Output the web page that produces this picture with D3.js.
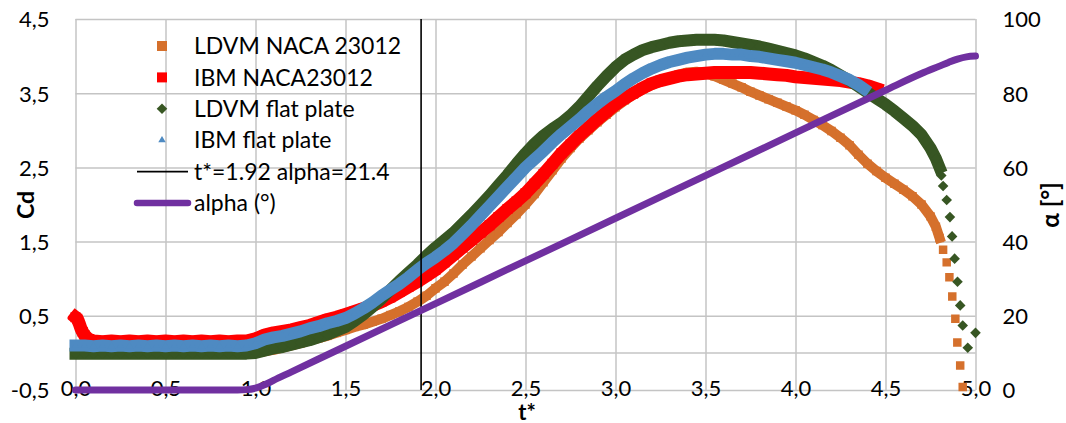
<!DOCTYPE html>
<html>
<head>
<meta charset="utf-8">
<script src="https://cdn.jsdelivr.net/npm/d3@7"></script>
<style>
  html, body { margin: 0; padding: 0; background: #ffffff; }
  svg { display: block; }
  text { font-family: Lato, "Open Sans", sans-serif; fill: #000; }
</style>
</head>
<body>
<div id="chart"></div>
<script>
// ---------------- DATA ----------------
const xTicks = [0, 0.5, 1.0, 1.5, 2.0, 2.5, 3.0, 3.5, 4.0, 4.5, 5.0];
const xTickLabels = ["0,0","0,5","1,0","1,5","2,0","2,5","3,0","3,5","4,0","4,5","5,0"];
const yTicks = [-0.5, 0.5, 1.5, 2.5, 3.5, 4.5];
const yTickLabels = ["-0,5","0,5","1,5","2,5","3,5","4,5"];
const y2Ticks = [0, 20, 40, 60, 80, 100];
const y2TickLabels = ["0","20","40","60","80","100"];

const seriesNames = ["LDVM NACA 23012", "IBM NACA23012", "LDVM flat plate", "IBM flat plate", "t*=1.92 alpha=21.4", "alpha (°)"];

// LDVM NACA 23012 (dense part)
const ldvmNacaT = [0,0.05,0.1,0.15,0.2,0.25,0.3,0.35,0.4,0.45,0.5,0.55,0.6,0.65,0.7,0.75,0.8,0.85,0.9,0.95,
  1.0,1.05,1.1,1.15,1.2,1.25,1.3,1.35,1.4,1.45,1.5,1.55,1.6,1.65,1.7,1.75,1.8,1.85,1.9,1.95,
  2.0,2.05,2.1,2.15,2.2,2.25,2.3,2.35,2.4,2.45,2.5,2.55,2.6,2.65,2.7,2.75,2.8,2.85,2.9,2.95,
  3.0,3.05,3.1,3.15,3.2,3.25,3.3,3.35,3.4,3.45,3.5,3.55,3.6,3.65,3.7,3.75,3.8,3.85,3.9,3.95,
  4.0,4.05,4.1,4.15,4.2,4.25,4.3,4.35,4.4,4.45,4.5,4.55,4.6,4.65,4.7,4.75,4.78,4.8];
const ldvmNacaCd = [0.00,0.00,0.00,0.00,0.00,0.00,0.00,0.00,0.00,0.00,0.00,0.00,0.00,0.00,0.00,0.00,0.00,0.00,0.00,0.00,
  0.01,0.02,0.04,0.07,0.10,0.13,0.17,0.20,0.23,0.27,0.31,0.35,0.38,0.42,0.46,0.51,0.56,0.62,0.69,0.77,
  0.87,0.96,1.07,1.19,1.30,1.41,1.52,1.63,1.75,1.87,2.00,2.14,2.30,2.46,2.62,2.76,2.89,3.00,3.11,3.21,
  3.31,3.40,3.48,3.55,3.61,3.66,3.71,3.75,3.78,3.79,3.77,3.73,3.68,3.63,3.58,3.52,3.47,3.42,3.37,3.32,
  3.27,3.21,3.14,3.07,2.99,2.90,2.80,2.67,2.55,2.45,2.36,2.28,2.20,2.11,2.00,1.84,1.70,1.55];
// LDVM NACA 23012 (sparse final drop)
const ldvmNacaTailT  = [4.82, 4.84, 4.855, 4.871, 4.888, 4.899, 4.915, 4.929];
const ldvmNacaTailCd = [1.39, 1.22, 1.02, 0.76, 0.46, 0.14, -0.17, -0.46];

// IBM NACA23012
const ibmNacaT = [0,0.01,0.02,0.03,0.04,0.05,0.07,0.1,0.15,0.2,0.25,0.3,0.35,0.4,0.45,0.5,0.55,0.6,0.65,0.7,0.75,0.8,0.85,0.9,0.95,
  1.0,1.05,1.1,1.15,1.2,1.25,1.3,1.35,1.4,1.45,1.5,1.55,1.6,1.65,1.7,1.75,1.8,1.85,1.9,1.95,
  2.0,2.05,2.1,2.15,2.2,2.25,2.3,2.35,2.4,2.45,2.5,2.55,2.6,2.65,2.7,2.75,2.8,2.85,2.9,2.95,
  3.0,3.05,3.1,3.15,3.2,3.25,3.3,3.35,3.4,3.45,3.5,3.55,3.6,3.65,3.7,3.75,3.8,3.85,3.9,3.95,
  4.0,4.05,4.1,4.15,4.2,4.25,4.3,4.35,4.4,4.45];
const ibmNacaCd = [0.48,0.46,0.40,0.33,0.28,0.24,0.19,0.16,0.15,0.16,0.15,0.16,0.15,0.16,0.15,0.16,0.15,0.16,0.15,0.16,0.15,0.16,0.15,0.16,0.16,
  0.19,0.24,0.27,0.29,0.31,0.34,0.37,0.41,0.45,0.48,0.52,0.56,0.60,0.64,0.69,0.75,0.82,0.89,0.96,1.04,
  1.12,1.22,1.32,1.42,1.52,1.62,1.72,1.83,1.94,2.04,2.15,2.28,2.41,2.55,2.69,2.81,2.93,3.04,3.15,3.25,
  3.35,3.43,3.50,3.57,3.63,3.67,3.70,3.73,3.75,3.76,3.77,3.78,3.78,3.78,3.78,3.78,3.77,3.76,3.75,3.74,
  3.72,3.71,3.70,3.69,3.68,3.67,3.65,3.63,3.60,3.56];

// LDVM flat plate (dense part)
const ldvmFlatT = [0,0.05,0.1,0.15,0.2,0.25,0.3,0.35,0.4,0.45,0.5,0.55,0.6,0.65,0.7,0.75,0.8,0.85,0.9,0.95,
  1.0,1.05,1.1,1.15,1.2,1.25,1.3,1.35,1.4,1.45,1.5,1.55,1.6,1.65,1.7,1.75,1.8,1.85,1.9,1.95,
  2.0,2.05,2.1,2.15,2.2,2.25,2.3,2.35,2.4,2.45,2.5,2.55,2.6,2.65,2.7,2.75,2.8,2.85,2.9,2.95,
  3.0,3.05,3.1,3.15,3.2,3.25,3.3,3.35,3.4,3.45,3.5,3.55,3.6,3.65,3.7,3.75,3.8,3.85,3.9,3.95,
  4.0,4.05,4.1,4.15,4.2,4.25,4.3,4.35,4.4,4.45,4.5,4.55,4.6,4.65,4.7,4.75,4.78,4.8];
const ldvmFlatCd = [-0.01,-0.01,-0.01,-0.01,-0.01,-0.01,-0.01,-0.01,-0.01,-0.01,-0.01,-0.01,-0.01,-0.01,-0.01,-0.01,-0.01,-0.01,-0.01,-0.01,
  0.00,0.03,0.06,0.08,0.11,0.14,0.17,0.21,0.25,0.30,0.35,0.43,0.52,0.62,0.73,0.85,0.97,1.08,1.19,1.31,
  1.42,1.52,1.62,1.74,1.86,1.99,2.12,2.26,2.40,2.55,2.69,2.82,2.93,3.02,3.10,3.20,3.32,3.46,3.60,3.73,
  3.85,3.95,4.02,4.08,4.12,4.15,4.18,4.20,4.21,4.22,4.22,4.22,4.21,4.19,4.17,4.15,4.13,4.10,4.07,4.04,
  4.01,3.97,3.92,3.87,3.81,3.74,3.67,3.59,3.51,3.43,3.35,3.26,3.16,3.06,2.94,2.76,2.62,2.50];
// LDVM flat plate (sparse final drop)
const ldvmFlatTailT  = [4.81, 4.82, 4.84, 4.858, 4.87, 4.884, 4.90, 4.915, 4.929, 4.957, 5.0];
const ldvmFlatTailCd = [2.39, 2.25, 2.06, 1.83, 1.57, 1.27, 0.96, 0.64, 0.37, 0.07, 0.27];

// IBM flat plate
const ibmFlatT = [0,0.05,0.1,0.15,0.2,0.25,0.3,0.35,0.4,0.45,0.5,0.55,0.6,0.65,0.7,0.75,0.8,0.85,0.9,0.95,
  1.0,1.05,1.1,1.15,1.2,1.25,1.3,1.35,1.4,1.45,1.5,1.55,1.6,1.65,1.7,1.75,1.8,1.85,1.9,1.95,
  2.0,2.05,2.1,2.15,2.2,2.25,2.3,2.35,2.4,2.45,2.5,2.55,2.6,2.65,2.7,2.75,2.8,2.85,2.9,2.95,
  3.0,3.05,3.1,3.15,3.2,3.25,3.3,3.35,3.4,3.45,3.5,3.55,3.6,3.65,3.7,3.75,3.8,3.85,3.9,3.95,
  4.0,4.05,4.1,4.15,4.2,4.25,4.3,4.35,4.38];
const ibmFlatCd = [0.10,0.10,0.09,0.10,0.09,0.10,0.09,0.10,0.09,0.10,0.09,0.10,0.09,0.10,0.09,0.10,0.09,0.10,0.09,0.10,
  0.13,0.18,0.21,0.23,0.26,0.29,0.33,0.36,0.40,0.43,0.47,0.53,0.60,0.68,0.77,0.85,0.93,1.02,1.12,1.21,
  1.29,1.38,1.48,1.60,1.72,1.85,1.98,2.11,2.24,2.37,2.50,2.61,2.72,2.84,2.95,3.05,3.15,3.26,3.36,3.45,
  3.53,3.62,3.70,3.77,3.83,3.88,3.92,3.95,3.98,4.00,4.02,4.03,4.03,4.02,4.02,4.00,3.99,3.97,3.95,3.93,
  3.91,3.88,3.85,3.82,3.78,3.73,3.68,3.61,3.56];

// vertical marker line t* = 1.92
const tStarT  = [1.92, 1.92];
const tStarCd = [-0.5, 4.5];

// alpha (deg), secondary axis
const alphaT   = [0, 0.5, 0.9, 0.95, 1.0, 1.05, 1.1, 1.2, 1.5, 2.0, 2.5, 3.0, 3.5, 4.0, 4.5, 4.7, 4.8, 4.85, 4.9, 4.95, 5.0];
const alphaDeg = [0, 0, 0, 0.1, 0.5, 1.4, 2.6, 4.9, 11.8, 23.3, 34.8, 46.3, 57.8, 69.3, 80.8, 85.3, 87.3, 88.3, 89.2, 89.8, 90];

// ---------------- CHART ----------------
const W = 1066, H = 423;
const pL = 75.5, pR = 975.5, pT = 19, pB = 390;

const colors = {
  ldvmNaca: "#D5702C",
  ibmNaca: "#FF0000",
  ldvmFlat: "#375623",
  ibmFlat: "#4E8AC2",
  tstar: "#000000",
  alpha: "#7030A0",
  grid: "#C4C4C4"
};

const svg = d3.select("#chart").append("svg").attr("width", W).attr("height", H);
svg.append("rect").attr("width", W).attr("height", H).attr("fill", "#fff");

const x = d3.scaleLinear().domain([0, 5]).range([pL, pR]);
const y = d3.scaleLinear().domain([-0.5, 4.5]).range([pB, pT]);
const y2 = d3.scaleLinear().domain([0, 100]).range([pB, pT]);

const FS = 22;
const FF = "Lato, 'Open Sans', sans-serif";

// gridlines
const gx = svg.append("g").attr("transform", `translate(0,${pB})`)
  .call(d3.axisBottom(x).tickValues(xTicks).tickSize(-(pB - pT)).tickFormat(""));
gx.select(".domain").remove();
gx.selectAll("line").attr("stroke", colors.grid).attr("stroke-width", 1.5);

const gy = svg.append("g").attr("transform", `translate(${pL},0)`)
  .call(d3.axisLeft(y).tickValues(yTicks).tickSize(-(pR - pL)).tickFormat(""));
gy.select(".domain").remove();
gy.selectAll("line").attr("stroke", colors.grid).attr("stroke-width", 1.5);

// horizontal axis line crossing at Cd = 0
svg.append("line").attr("x1", pL).attr("x2", pR)
  .attr("y1", y(0)).attr("y2", y(0))
  .attr("stroke", colors.grid).attr("stroke-width", 1.5);

// tick labels
const axX = svg.append("g").attr("transform", `translate(0,${pB})`)
  .call(d3.axisBottom(x).tickValues(xTicks).tickSize(0).tickFormat((d, i) => xTickLabels[i]));
axX.select(".domain").remove();
axX.selectAll("text").attr("y", -1.5).attr("dy", "0.36em")
  .style("font-size", FS + "px").style("font-family", FF).attr("fill", "#000");

const axY = svg.append("g").attr("transform", `translate(${pL},0)`)
  .call(d3.axisLeft(y).tickValues(yTicks).tickSize(0).tickPadding(26).tickFormat((d, i) => yTickLabels[i]));
axY.select(".domain").remove();
axY.selectAll("text").attr("dy", "0.36em")
  .style("font-size", FS + "px").style("font-family", FF).attr("fill", "#000");

const axY2 = svg.append("g").attr("transform", `translate(${pR},0)`)
  .call(d3.axisRight(y2).tickValues(y2Ticks).tickSize(0).tickPadding(27).tickFormat((d, i) => y2TickLabels[i]));
axY2.select(".domain").remove();
axY2.selectAll("text").attr("dy", "0.36em")
  .style("font-size", FS + "px").style("font-family", FF).attr("fill", "#000");

// axis titles
svg.append("text").attr("transform", `translate(25.5,205) rotate(-90)`)
  .attr("text-anchor", "middle").attr("dy", "0.36em")
  .style("font-size", "23px").style("font-weight", "bold").text("Cd");
svg.append("text").attr("x", 527).attr("y", 420)
  .attr("text-anchor", "middle")
  .style("font-size", "22px").style("font-weight", "bold").text("t*");
svg.append("text").attr("transform", `translate(1050,205) rotate(-90)`)
  .attr("text-anchor", "middle").attr("dy", "0.36em")
  .style("font-size", "24px").style("font-weight", "bold").text("α [°]");

// clip
svg.append("clipPath").attr("id", "plotClip").append("rect")
  .attr("x", pL - 8).attr("y", pT - 2).attr("width", pR - pL + 16).attr("height", pB - pT + 4);
const plot = svg.append("g").attr("clip-path", "url(#plotClip)");

const zip = (ts, vs) => ts.map((t, i) => ({ t: t, v: vs[i] }));

const lineCd = d3.line().x(d => x(d.t)).y(d => y(d.v));
const lineA = d3.line().x(d => x(d.t)).y(d => y2(d.v)).curve(d3.curveMonotoneX);

const symSquare = d3.symbol().type(d3.symbolSquare).size(72)();
const symSquareR = d3.symbol().type(d3.symbolSquare).size(100)();
const symDia = d3.symbol().type(d3.symbolSquare).size(56)();
const symTri = d3.symbol().type(d3.symbolTriangle).size(24)();

function band(data, color, width) {
  plot.append("path").datum(data).attr("d", lineCd)
    .attr("fill", "none").attr("stroke", color).attr("stroke-width", width)
    .attr("stroke-linejoin", "round").attr("stroke-linecap", "square");
}
function markers(data, color, sym, rot) {
  plot.append("g").selectAll("path").data(data).join("path")
    .attr("d", sym)
    .attr("transform", d => `translate(${x(d.t)},${y(d.v)})` + (rot ? ` rotate(${rot})` : ""))
    .attr("fill", color);
}

// LDVM NACA 23012
const dLN = zip(ldvmNacaT, ldvmNacaCd);
band(dLN, colors.ldvmNaca, 10);
markers(dLN, colors.ldvmNaca, symSquare);
markers(zip(ldvmNacaTailT, ldvmNacaTailCd), colors.ldvmNaca, symSquare);

// IBM NACA23012
const dIN = zip(ibmNacaT, ibmNacaCd);
band(dIN, colors.ibmNaca, 13);
markers(dIN, colors.ibmNaca, symSquareR);

// LDVM flat plate
const dLF = zip(ldvmFlatT, ldvmFlatCd);
band(dLF, colors.ldvmFlat, 12);
markers(dLF, colors.ldvmFlat, symDia, 45);
markers(zip(ldvmFlatTailT, ldvmFlatTailCd), colors.ldvmFlat, symDia, 45);

// IBM flat plate
const dIF = zip(ibmFlatT, ibmFlatCd);
band(dIF, colors.ibmFlat, 12);
markers(dIF, colors.ibmFlat, symTri);

// t* line
svg.append("path").datum(zip(tStarT, tStarCd)).attr("d", lineCd)
  .attr("fill", "none").attr("stroke", colors.tstar).attr("stroke-width", 1.6);

// alpha line
svg.append("path").datum(zip(alphaT, alphaDeg)).attr("d", lineA)
  .attr("fill", "none").attr("stroke", colors.alpha).attr("stroke-width", 7)
  .attr("stroke-linecap", "round").attr("stroke-linejoin", "round");

// legend
const legX = 162, legTextX = 194, legY0 = 46, legDY = 31.4;
const leg = svg.append("g");
seriesNames.forEach((name, i) => {
  const cy = legY0 + i * legDY;
  if (i === 0) leg.append("rect").attr("x", legX - 5).attr("y", cy - 5).attr("width", 10).attr("height", 10).attr("fill", colors.ldvmNaca);
  if (i === 1) leg.append("rect").attr("x", legX - 5).attr("y", cy - 5).attr("width", 10).attr("height", 10).attr("fill", colors.ibmNaca);
  if (i === 2) leg.append("path").attr("d", symDia).attr("transform", `translate(${legX},${cy}) rotate(45)`).attr("fill", colors.ldvmFlat);
  if (i === 3) leg.append("path").attr("d", symTri).attr("transform", `translate(${legX},${cy})`).attr("fill", colors.ibmFlat);
  if (i === 4) leg.append("line").attr("x1", 137).attr("x2", 188).attr("y1", cy).attr("y2", cy).attr("stroke", colors.tstar).attr("stroke-width", 1.6);
  if (i === 5) leg.append("line").attr("x1", 137).attr("x2", 188).attr("y1", cy).attr("y2", cy).attr("stroke", colors.alpha).attr("stroke-width", 6.5).attr("stroke-linecap", "round");
  leg.append("text").attr("x", legTextX).attr("y", cy).attr("dy", "0.36em")
    .style("font-size", "23px").text(name);
});
</script>
</body>
</html>
